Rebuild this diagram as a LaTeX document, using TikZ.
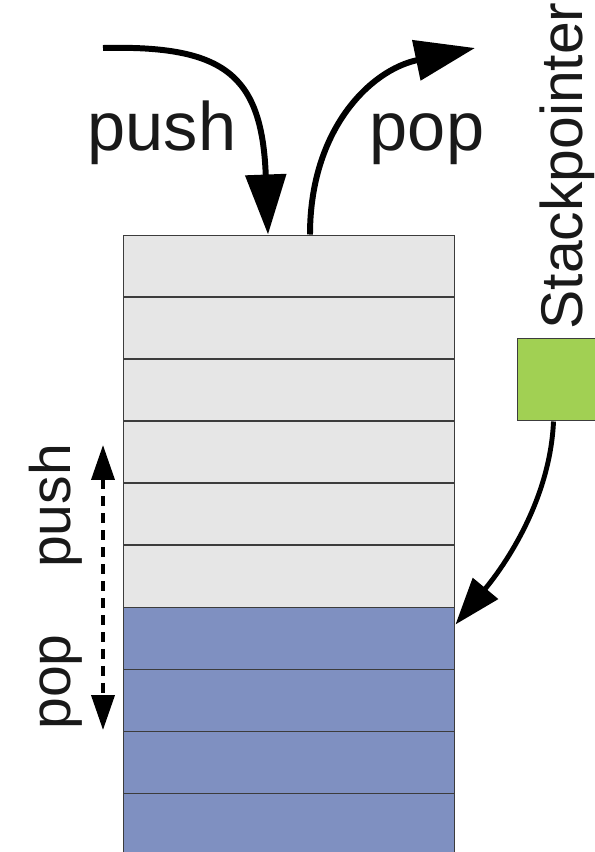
\documentclass[tikz,border=0pt]{standalone}
\usepackage{fontspec}
\setmainfont{Liberation Sans}
\usepackage{xcolor}
\usepackage{tikz}
\usetikzlibrary{arrows.meta, positioning}

\definecolor{cellgray}{HTML}{E6E6E6}
\definecolor{cellblue}{HTML}{7F90C1}
\definecolor{spgreen}{HTML}{A1D053}
\definecolor{rim}{HTML}{3C3C3C}

\tikzset{
  cell/.style={draw=rim, line width=0.57pt, inner sep=0pt, minimum width=6.64cm, minimum height=1.24cm},
  bigarrow/.style={line width=3.4pt, -{Triangle[length=1.2cm, width=0.8cm]}},
  spline/.style={line width=2.8pt, -{Triangle[length=0.94cm, width=0.64cm]}},
  moveline/.style={line width=2.2pt, dash pattern=on 0.2cm off 0.14cm,
    {Triangle[length=0.7cm, width=0.46cm]}-{Triangle[length=0.7cm, width=0.46cm]}},
  biglabel/.style={font=\fontsize{39}{47}\selectfont, text=black!90, anchor=base, inner sep=0pt},
  sidelabel/.style={font=\fontsize{32.5}{39}\selectfont, text=black!90, anchor=base, inner sep=0pt, rotate=90}
}

\begin{document}
\begin{tikzpicture}[x=0.02cm, y=-0.02cm]
  \clip (0,0) rectangle (595,852);

  % stack cells, free ones on top, used ones below
  \foreach \i in {1,...,6}
    \node[cell, fill=cellgray] (cell\i) at (289,{204+62*\i}) {};
  \foreach \i in {7,...,10}
    \node[cell, fill=cellblue] (cell\i) at (289,{204+62*\i}) {};

  % stack pointer
  \node[draw=rim, line width=0.57pt, fill=spgreen, minimum size=1.66cm, inner sep=0pt] (sp) at (558.5,379.5) {};
  \node[sidelabel, font=\fontsize{33.5}{40}\selectfont] (splabel) at (582,166) {Stackpointer};

  % push and pop at the top
  \coordinate (pushin) at (103,48);
  \coordinate (popout) at (475,48);
  \node[biglabel] (pushlabel) at (162,150) {push};
  \node[biglabel] (poplabel) at (427,150) {pop};
  \draw[bigarrow] (pushin) .. controls (225,45) and (262,75) .. ([xshift=-0.42cm]cell1.north);
  \draw[bigarrow] ([xshift=0.42cm]cell1.north) .. controls (310,130) and (370,70) .. (popout);

  \draw[spline] ([xshift=-0.1cm]sp.south) .. controls (550,500) and (505,565) .. ([yshift=-0.36cm]cell7.north east);

  % direction of the pointer
  \coordinate (movetop) at (103,445);
  \coordinate (movebottom) at (103,730);
  \draw[moveline] (movetop) -- (movebottom);
  \node[sidelabel] (sidepush) at (70,506) {push};
  \node[sidelabel] (sidepop) at (70,682) {pop};
\end{tikzpicture}
\end{document}
